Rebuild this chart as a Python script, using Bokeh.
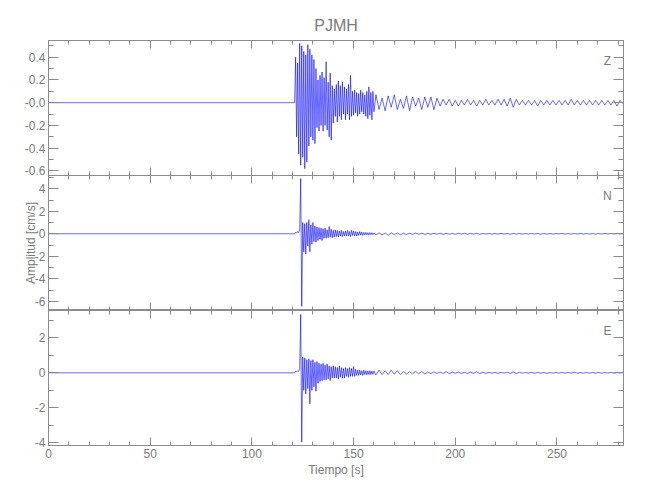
import numpy as np
from bokeh.plotting import figure
from bokeh.layouts import column
from bokeh.models import LinearAxis, Range1d, FixedTicker, Label
from bokeh.embed import file_html
from bokeh.resources import INLINE

# ---------------- data ----------------
station = "PJMH"
x_label = "Tiempo [s]"
y_label = "Amplitud [cm/s]"
t_end = 282.7

t_pre = [0.0]
dense_start, dense_stop, dense_dt = 121.0, 160.0, 0.5
tail_start, tail_stop, tail_dt = 161.0, 282.5, 1.5

# Z component (cm/s), 121.0 .. 160.0 every 0.5 s
z_dense = [0.00, 0.40, -0.30, 0.35, -0.45, 0.52, -0.55, 0.50, -0.48, 0.45,
           -0.58, 0.42, -0.52, 0.51, -0.38, 0.47, -0.30, 0.42, -0.33, 0.38,
           -0.36, 0.30, -0.22, 0.20, -0.25, 0.24, -0.20, 0.27, -0.25, 0.22,
           -0.20, 0.36, -0.24, 0.18, -0.30, 0.26, -0.33, 0.15, -0.18, 0.12,
           -0.12, 0.16, -0.17, 0.19, -0.12, 0.15, -0.15, 0.18, -0.10, 0.14,
           -0.15, 0.12, -0.10, 0.16, -0.15, 0.24, -0.12, 0.10, -0.11, 0.11,
           -0.09, 0.09, -0.12, 0.08, -0.10, 0.11, -0.08, 0.09, -0.10, 0.07,
           -0.12, 0.10, -0.14, 0.14, -0.11, 0.09, -0.15, 0.10, -0.08]
# Z component, 161.0 .. 282.5 every 1.5 s
z_tail = [0.07, -0.06, 0.04, -0.07, 0.06, -0.04, 0.07, -0.06, 0.03, -0.05,
          0.06, -0.07, 0.05, -0.03, 0.04, -0.06, 0.05, -0.04, 0.05, -0.06,
          0.04, -0.03, 0.03, -0.02, 0.03, -0.03, 0.02, -0.03, 0.02, -0.02,
          0.03, -0.02, 0.02, -0.03, 0.02, -0.02, 0.03, -0.02, 0.02, -0.02,
          0.03, -0.02, 0.03, -0.03, 0.04, -0.04, 0.03, -0.02, 0.02, -0.02,
          0.02, -0.02, 0.02, -0.03, 0.02, -0.02, 0.02, -0.02, 0.02, -0.02,
          0.02, -0.02, 0.02, -0.02, 0.03, -0.02, 0.02, -0.02, 0.02, -0.02,
          0.02, -0.02, 0.02, -0.02, 0.02, -0.02, 0.02, -0.02, 0.02, -0.03,
          0.02, -0.01]

# N component
n_dense = [0.00, 0.15, 0.05, 0.20, 0.10, 0.30, 4.90, -6.45, 1.00, -1.60,
           0.90, -1.80, 1.00, -1.10, 1.25, -1.60, 0.80, -0.90, 1.00, -0.70,
           0.70, -0.75, 0.60, -0.60, 0.55, -0.50, 0.50, -0.60, 0.45, -0.40,
           0.50, -0.40, 0.35, -0.35, 0.65, -0.30, 0.40, -0.35, 0.30, -0.30,
           0.35, -0.25, 0.30, -0.30, 0.25, -0.20, 0.30, -0.25, 0.20, -0.20,
           0.25, -0.20, 0.30, -0.20, 0.20, -0.25, 0.30, -0.15, 0.25, -0.20,
           0.20, -0.20, 0.15, -0.15, 0.20, -0.12, 0.15, -0.15, 0.12, -0.10,
           0.12, -0.10, 0.10, -0.12, 0.10, -0.08, 0.10, -0.08, 0.08]
n_tail = [-0.10, 0.08, -0.10, 0.07, -0.12, 0.08, -0.07, 0.06, -0.08, 0.05,
          -0.06, 0.05, -0.05, 0.06, -0.04, 0.05, -0.06, 0.04, -0.05, 0.04,
          -0.04, 0.05, -0.06, 0.04, -0.04, 0.03, -0.05, 0.04, -0.03, 0.04,
          -0.04, 0.03, -0.03, 0.04, -0.05, 0.03, -0.03, 0.03, -0.04, 0.03,
          -0.03, 0.04, -0.03, 0.03, -0.04, 0.03, -0.03, 0.03, -0.03, 0.02,
          -0.03, 0.03, -0.02, 0.03, -0.04, 0.03, -0.03, 0.02, -0.03, 0.03,
          -0.02, 0.03, -0.03, 0.02, -0.03, 0.02, -0.02, 0.03, -0.03, 0.02,
          -0.02, 0.02, -0.03, 0.02, -0.02, 0.03, -0.02, 0.02, -0.02, 0.02,
          -0.02, 0.01]

# E component
e_dense = [0.00, 0.10, 0.05, 0.12, 0.08, 0.20, 3.33, -3.95, 0.90, -1.00,
           0.85, -1.20, 0.75, -0.90, 0.80, -1.77, 0.70, -1.00, 0.75, -0.80,
           0.60, -1.05, 0.65, -0.60, 0.55, -0.50, 0.50, -0.45, 0.55, -0.40,
           0.45, -0.40, 0.50, -0.35, 0.40, -0.45, 0.35, -0.30, 0.40, -0.30,
           0.35, -0.30, 0.30, -0.35, 0.40, -0.25, 0.30, -0.30, 0.25, -0.30,
           0.30, -0.20, 0.25, -0.25, 0.30, -0.20, 0.25, -0.20, 0.36, -0.20,
           0.20, -0.15, 0.15, -0.15, 0.15, -0.12, 0.12, -0.15, 0.15, -0.10,
           0.12, -0.12, 0.10, -0.10, 0.12, -0.10, 0.10, -0.08, 0.10]
e_tail = [-0.12, 0.15, -0.10, 0.12, -0.10, 0.15, -0.08, 0.12, -0.10, 0.08,
          -0.08, 0.07, -0.06, 0.08, -0.05, 0.07, -0.06, 0.05, -0.05, 0.06,
          -0.04, 0.05, -0.04, 0.07, -0.04, 0.04, -0.03, 0.04, -0.03, 0.03,
          -0.03, 0.04, -0.03, 0.06, -0.04, 0.03, -0.03, 0.03, -0.02, 0.03,
          -0.03, 0.03, -0.02, 0.04, -0.03, 0.05, -0.04, 0.03, -0.02, 0.02,
          -0.02, 0.03, -0.02, 0.02, -0.02, 0.02, -0.03, 0.02, -0.02, 0.02,
          -0.02, 0.02, -0.02, 0.02, -0.02, 0.03, -0.02, 0.02, -0.02, 0.02,
          -0.02, 0.02, -0.02, 0.02, -0.02, 0.02, -0.01, 0.02, -0.02, 0.01,
          -0.01, 0.01]

# axis ranges and ticks
z_range = (-0.64, 0.547)
n_range = (-6.82, 5.18)
e_range = (-4.15, 3.56)
z_ticks = [-0.6, -0.4, -0.2, 0.0, 0.2, 0.4]
z_tick_labels = ["-0.6", "-0.4", "-0.2", "-0.0", "0.2", "0.4"]
z_minor = [-0.6, -0.5, -0.4, -0.3, -0.2, -0.1, 0.0, 0.1, 0.2, 0.3, 0.4, 0.5]
n_ticks = [-6, -4, -2, 0, 2, 4]
n_tick_labels = ["-6", "-4", "-2", "0", "2", "4"]
n_minor = [-6, -5, -4, -3, -2, -1, 0, 1, 2, 3, 4, 5]
e_ticks = [-4, -2, 0, 2]
e_tick_labels = ["-4", "-2", "0", "2"]
e_minor = [-4, -3, -2, -1, 0, 1, 2, 3]
x_ticks = [0, 50, 100, 150, 200, 250]
x_tick_labels = ["0", "50", "100", "150", "200", "250"]
x_minor = [0, 10, 20, 30, 40, 50, 60, 70, 80, 90, 100, 110, 120, 130, 140,
           150, 160, 170, 180, 190, 200, 210, 220, 230, 240, 250, 260, 270, 280]

# ---------------- build ----------------
t = np.concatenate([t_pre,
                    np.arange(dense_start, dense_stop + 1e-6, dense_dt),
                    np.arange(tail_start, tail_stop + 1e-6, tail_dt)])

GRAY = "#8c8c8c"
TXT = "#7a7a7a"
FONT = "Liberation Sans"
BLUE = "#0000ff"
SPILL = 8   # room below panel 1 so its lowest tick label is not clipped

x_range = Range1d(0, t_end)

def make_axis(ticks, minor, labels, tick_len, minor_len, show):
    ax = LinearAxis(ticker=FixedTicker(ticks=ticks, minor_ticks=minor))
    ax.major_tick_in = tick_len
    ax.major_tick_out = 0
    ax.minor_tick_in = minor_len
    ax.minor_tick_out = 0
    ax.axis_line_color = GRAY
    ax.major_tick_line_color = GRAY
    ax.minor_tick_line_color = GRAY
    if show:
        ax.major_label_overrides = dict(zip(ticks, labels))
        ax.major_label_text_font = FONT
        ax.major_label_text_font_size = "12px"
        ax.major_label_text_color = TXT
        ax.major_label_standoff = 3
    else:
        ax.major_label_overrides = {tk: "" for tk in ticks}
        ax.major_label_text_font_size = "0px"
        ax.major_label_standoff = 0
    return ax

def panel(yvals, yr, yt, ylab, yminor, letter, top, bottom, show_x, show_ylabel):
    p = figure(width=641, height=135 + top + bottom, x_range=x_range,
               y_range=Range1d(*yr), output_backend="svg",
               toolbar_location=None, x_axis_location=None, y_axis_location=None,
               min_border_left=48, min_border_right=18,
               min_border_top=top, min_border_bottom=bottom)
    p.outline_line_color = GRAY
    p.background_fill_color = "white"
    p.border_fill_color = "white"
    p.border_fill_alpha = 0
    p.xgrid.visible = False
    p.ygrid.visible = False
    left = make_axis(yt, yminor, ylab, 10, 5, True)
    if show_ylabel:
        left.axis_label = y_label
        left.axis_label_text_font = FONT
        left.axis_label_text_font_size = "12px"
        left.axis_label_text_font_style = "normal"
        left.axis_label_text_color = TXT
        left.axis_label_standoff = -6
    p.add_layout(left, "left")
    p.add_layout(make_axis(yt, yminor, ylab, 10, 5, False), "right")
    p.add_layout(make_axis(x_ticks, x_minor, x_tick_labels, 8, 4, False), "above")
    bot = make_axis(x_ticks, x_minor, x_tick_labels, 8, 4, show_x)
    if show_x:
        bot.axis_label = x_label
        bot.axis_label_text_font = FONT
        bot.axis_label_text_font_size = "12px"
        bot.axis_label_text_font_style = "normal"
        bot.axis_label_text_color = TXT
        bot.axis_label_standoff = 2
    p.add_layout(bot, "below")
    p.line(t, np.concatenate([[0.0], yvals[0], yvals[1]]),
           line_color=BLUE, line_width=0.6)
    p.add_layout(Label(x=t_end * 0.972, y=yr[0] + 0.85 * (yr[1] - yr[0]),
                       text=letter, text_align="center", text_baseline="middle",
                       text_font=FONT, text_font_size="12px", text_color=TXT))
    return p

p1 = panel((z_dense, z_tail), z_range, z_ticks, z_tick_labels, z_minor, "Z", 40, SPILL, False, False)
p1.title.text = station
p1.title.align = "center"
p1.title.text_font = FONT
p1.title.text_font_size = "16px"
p1.title.text_font_style = "normal"
p1.title.text_color = TXT
p1.title.standoff = 14
p2 = panel((n_dense, n_tail), n_range, n_ticks, n_tick_labels, n_minor, "N", 0, 0, False, True)
p2.margin = (-SPILL, 0, 0, 0)
p3 = panel((e_dense, e_tail), e_range, e_ticks, e_tick_labels, e_minor, "E", 0, 40, True, False)

layout = column(p1, p2, p3)
open("out.html", "w").write(file_html(layout, INLINE))
